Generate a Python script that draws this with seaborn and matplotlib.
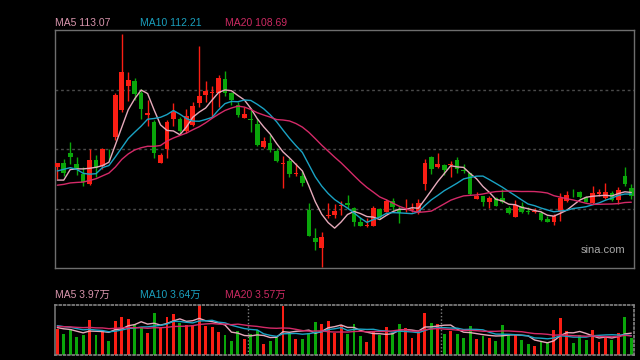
import numpy as np
import pandas as pd
import matplotlib
matplotlib.use("Agg")
import matplotlib.pyplot as plt
import seaborn as sns

# ---------------- data ----------------
opens = [122.9, 124.5, 128.2, 123.8, 119.8, 115.8, 125.4, 123.1, 128.9, 134.7,
         145.8, 155.5, 157.4, 152.5, 143.9, 140.7, 124.5, 130.1, 142.2, 142.2,
         137.1, 139.8, 148.7, 151.8, 152.7, 152.5, 158.2, 152.5, 147.8, 142.7,
         142.2, 140.2, 130.7, 132.5, 129.0, 123.9, 125.0, 119.8, 119.1, 105.4,
         94.2, 90.2, 102.9, 103.5, 106.9, 108.1, 106.2, 100.7, 98.9, 99.1,
         105.8, 104.7, 108.9, 105.8, 105.5, 105.4, 104.7, 115.8, 126.6, 122.7,
         123.4, 123.7, 125.4, 121.4, 120.2, 109.8, 110.9, 108.7, 110.1, 110.2,
         106.2, 102.7, 107.1, 105.1, 104.7, 104.1, 101.8, 100.7, 104.7, 109.1,
         111.9, 112.7, 110.7, 108.2, 111.8, 110.1, 112.2, 109.5, 119.1, 114.1]
highs = [124.5, 125.8, 132.7, 126.7, 122.9, 129.8, 127.4, 130.5, 129.8, 152.5,
         176.2, 161.0, 158.5, 154.1, 149.8, 141.8, 128.5, 141.8, 148.7, 142.9,
         146.1, 149.1, 171.4, 157.4, 155.4, 159.8, 161.5, 153.1, 149.1, 147.1,
         146.5, 142.5, 134.7, 135.8, 130.5, 127.1, 126.5, 124.5, 121.1, 108.2,
         98.1, 96.5, 108.2, 107.8, 109.1, 111.4, 106.7, 102.5, 102.1, 107.1,
         106.1, 109.8, 110.2, 107.1, 109.8, 108.2, 109.8, 125.8, 127.1, 128.5,
         123.8, 125.1, 126.6, 124.1, 120.5, 112.5, 111.1, 111.1, 110.5, 113.8,
         107.1, 109.5, 108.5, 106.5, 106.2, 104.9, 103.1, 103.8, 112.2, 113.1,
         113.8, 113.1, 111.1, 115.1, 113.8, 116.2, 113.1, 114.5, 122.7, 115.8]
lows = [117.8, 119.1, 123.8, 119.5, 114.9, 115.5, 118.9, 121.8, 125.5, 133.8,
        145.1, 149.5, 149.8, 142.1, 139.1, 126.5, 124.2, 126.2, 139.1, 136.5,
        136.5, 139.1, 147.1, 149.1, 143.1, 147.1, 151.4, 147.8, 142.9, 142.5,
        136.7, 131.1, 130.5, 128.9, 124.9, 114.1, 118.9, 119.1, 115.1, 94.9,
        89.1, 82.5, 102.1, 102.2, 103.5, 105.8, 99.1, 98.9, 98.7, 98.9,
        101.8, 104.5, 105.1, 100.2, 104.7, 104.7, 103.8, 113.5, 120.1, 122.5,
        119.5, 118.7, 120.2, 120.5, 111.5, 109.7, 107.1, 106.2, 106.9, 108.2,
        103.8, 102.5, 104.2, 103.8, 104.2, 100.9, 100.5, 99.5, 101.1, 108.7,
        110.5, 110.2, 108.5, 107.8, 111.1, 109.8, 109.1, 107.8, 115.1, 109.8]
closes = [124.2, 120.5, 126.7, 121.8, 116.7, 125.4, 122.5, 130.1, 128.6, 151.8,
          161.0, 157.8, 152.1, 146.2, 144.7, 128.2, 127.4, 141.0, 145.1, 137.1,
          143.4, 147.4, 151.4, 153.4, 153.1, 158.5, 152.7, 149.8, 143.8, 144.2,
          141.5, 131.8, 133.4, 129.4, 125.0, 124.5, 119.8, 120.2, 116.2, 95.1,
          92.3, 94.5, 103.4, 105.1, 107.4, 107.5, 100.7, 99.1, 99.1, 106.2,
          102.5, 109.1, 106.7, 104.1, 105.8, 105.8, 108.2, 124.5, 122.1, 124.1,
          121.5, 124.1, 122.1, 121.1, 111.8, 110.9, 108.5, 110.2, 107.1, 108.7,
          104.2, 107.5, 104.7, 104.5, 105.1, 101.4, 100.7, 102.9, 110.2, 111.4,
          111.7, 110.7, 108.7, 112.2, 112.5, 112.5, 109.5, 113.4, 115.8, 111.1]
# closes before the visible window (estimated from the start of the MA lines)
prior_closes = [113.8, 115.1, 117.8, 113.8, 112.5, 108.5, 107.1, 105.8, 103.1, 99.1,
                113.8, 120.1, 128.5, 132.7, 129.0, 120.5, 105.4, 120.5, 116.7]
# volume, in 万
volumes = [4.68, 3.78, 4.63, 3.24, 3.60, 6.30, 3.60, 4.37, 2.52, 6.12,
           6.84, 6.48, 5.40, 5.09, 4.01, 7.61, 4.81, 6.84, 7.43, 5.81,
           5.40, 5.40, 8.95, 5.27, 5.04, 4.14, 3.60, 2.52, 4.37, 2.93,
           3.78, 4.50, 1.98, 2.52, 3.19, 8.82, 3.91, 2.88, 2.88, 3.91,
           5.94, 5.63, 6.12, 3.91, 5.40, 3.78, 5.58, 3.42, 2.34, 4.19,
           3.60, 5.04, 3.91, 5.58, 4.81, 3.06, 4.19, 7.56, 5.71, 5.58,
           3.78, 4.32, 3.78, 3.06, 5.22, 2.88, 3.42, 3.06, 2.52, 5.40,
           3.60, 3.60, 2.70, 1.98, 1.62, 2.34, 2.34, 4.50, 6.66, 4.27,
           2.16, 3.60, 2.70, 4.50, 2.34, 3.06, 2.70, 4.01, 6.84, 3.06]
prior_volumes = [4.8, 5.2, 5.0, 4.6, 5.4, 5.3, 4.7, 5.1, 4.9, 5.0,
                 5.6, 5.8, 5.5, 5.9, 5.4, 4.9, 5.2, 4.8, 5.1]
ma_names = ["MA5", "MA10", "MA20"]
ma_windows = [5, 10, 20]
price_ma_labels = ["113.07", "112.21", "108.69"]
vol_ma_labels = ["3.97万", "3.64万", "3.57万"]
watermark = "sina.com"

# ---------------- style ----------------
sns.set_theme(style="dark")
plt.rcParams['font.family'] = ['Liberation Sans', 'Noto Sans CJK SC', 'DejaVu Sans']

RED = '#fa1e14'
GREEN = '#0aa60a'
MA_COLORS = ['#e6aabb', '#1aa3c4', '#d42a68']
LABEL_COLORS = ['#d995ad', '#1a9fbd', '#cc2a62']
BORDER = '#6e6e6e'
GRID = '#4a4a4a'

o = np.array(opens); h = np.array(highs); l = np.array(lows); c = np.array(closes)
v = np.array(volumes)
n = len(c)
x = np.arange(n)
up = c >= o
cols = np.where(up, RED, GREEN)

all_close = pd.Series(prior_closes + closes)
all_vol = pd.Series(prior_volumes + volumes)
k = len(prior_closes)

fig = plt.figure(figsize=(6.4, 3.6), dpi=100, facecolor='black')
ax = fig.add_axes([55/640, (360-268)/360, 579/640, 238/360])
axv = fig.add_axes([55/640, 5/360, 579/640, 50/360])

for a in (ax, axv):
    a.set_facecolor('black')
    a.set_xticks([]); a.set_yticks([])
    a.grid(False)
    a.set_xlim(-0.36, n - 1 + 0.42)

# price panel
ax.set_ylim(82.0, 178.0)
for lvl in (106, 130, 154):
    ax.axhline(lvl, color=GRID, lw=1.0, ls=(0, (2, 2)), zorder=1)
ax.vlines(x, l, h, colors=cols, lw=1.0, zorder=2)
ax.bar(x, np.maximum(np.abs(c - o), 0.35), bottom=np.minimum(o, c), width=0.72,
       color=cols, linewidth=0, zorder=3)
for w, col in zip(ma_windows, MA_COLORS):
    ma = all_close.rolling(w).mean().to_numpy()[k:]
    sns.lineplot(x=x, y=ma, ax=ax, color=col, lw=1.0, zorder=4, legend=False)
for s in ax.spines.values():
    s.set_color(BORDER); s.set_linewidth(1.0)
ax.text(0.985, 0.075, watermark, transform=ax.transAxes, ha='right', va='center',
        color='#a8a8a8', fontsize=8)

# volume panel
axv.set_ylim(0, 9.0)
axv.bar(x, v, width=0.45, color=cols, linewidth=0, zorder=2)
for w, col in zip(ma_windows, MA_COLORS):
    ma = all_vol.rolling(w).mean().to_numpy()[k:]
    sns.lineplot(x=x, y=ma, ax=axv, color=col, lw=1.0, zorder=3, legend=False)
for xv in (29.5, 59.5):
    axv.axvline(xv, color='#808080', lw=1.0, ls=(0, (1, 1.5)), zorder=1)
axv.spines['left'].set_color(BORDER)
for side in ('top', 'bottom', 'right'):
    axv.spines[side].set_color('#808080')
    axv.spines[side].set_linestyle((0, (1, 1.5)))

# labels
xs = [55, 140, 225]
for xi, name, val, col in zip(xs, ma_names, price_ma_labels, LABEL_COLORS):
    fig.text(xi/640, 1 - 23.5/360, f"{name} {val}", color=col, fontsize=7.5,
             ha='left', va='center')
for xi, name, val, col in zip(xs, ma_names, vol_ma_labels, LABEL_COLORS):
    fig.text(xi/640, 1 - 295/360, f"{name} {val}", color=col, fontsize=7.5,
             ha='left', va='center')

fig.savefig("out.png", dpi=100, facecolor='black')
